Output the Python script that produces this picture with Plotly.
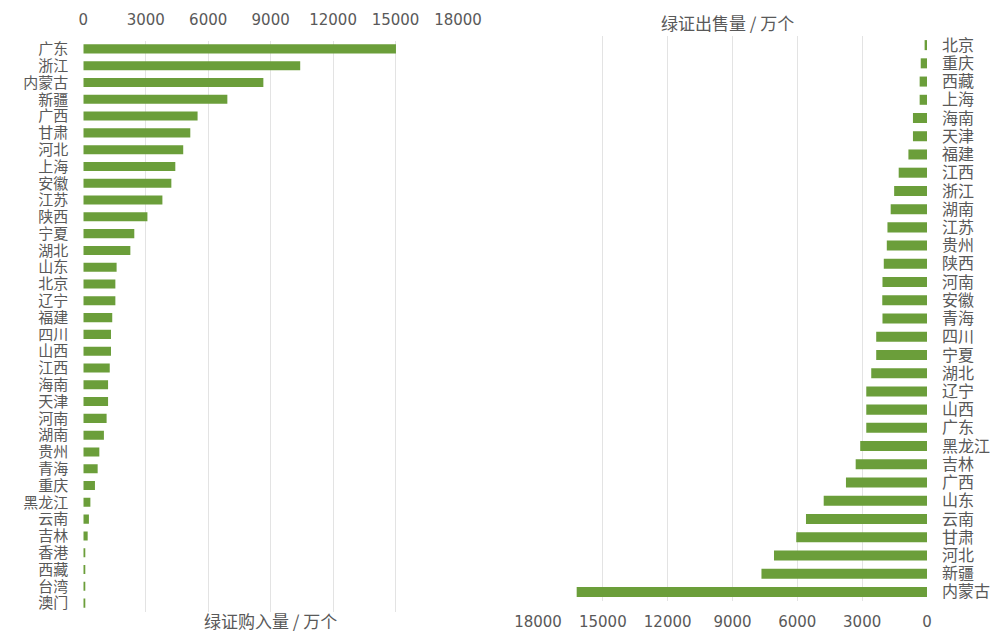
import plotly.graph_objects as go

# page offset: the browser body has an 8px margin
OFF = 8
W, H = 1000, 625

# Left panel: green certificate purchases (万个)
buy_regions = ["广东", "浙江", "内蒙古", "新疆", "广西", "甘肃", "河北", "上海", "安徽", "江苏",
               "陕西", "宁夏", "湖北", "山东", "北京", "辽宁", "福建", "四川", "山西", "江西",
               "海南", "天津", "河南", "湖南", "贵州", "青海", "重庆", "黑龙江", "云南", "吉林",
               "香港", "西藏", "台湾", "澳门"]
buy_values = [15020, 10420, 8650, 6920, 5490, 5140, 4800, 4420, 4230, 3800,
              3080, 2450, 2260, 1600, 1540, 1540, 1390, 1330, 1330, 1270,
              1190, 1190, 1120, 990, 770, 690, 560, 340, 270, 210,
              90, 80, 70, 60]

# Right panel: green certificate sales (万个)
sell_regions = ["北京", "重庆", "西藏", "上海", "海南", "天津", "福建", "江西", "浙江", "湖南",
                "江苏", "贵州", "陕西", "河南", "安徽", "青海", "四川", "宁夏", "湖北", "辽宁",
                "山西", "广东", "黑龙江", "吉林", "广西", "山东", "云南", "甘肃", "河北", "新疆",
                "内蒙古"]
sell_values = [110, 290, 340, 340, 650, 650, 860, 1310, 1520, 1680,
               1830, 1860, 2000, 2060, 2070, 2060, 2350, 2350, 2580, 2810,
               2810, 2810, 3090, 3300, 3750, 4780, 5600, 6050, 7080, 7660,
               16210]

tick_vals = [0, 3000, 6000, 9000, 12000, 15000, 18000]
tick_text = ["0", "3000", "6000", "9000", "12000", "15000", "18000"]

BAR = "#6B9E3A"
GRID = "#E3E3E3"
TXT = "#595959"
CJK = "Noto Sans CJK SC"
NUM = "DejaVu Sans"

fig = go.Figure()
fig.add_trace(go.Bar(x=buy_values, y=buy_regions, orientation="h",
                     marker=dict(color=BAR, line=dict(width=0)),
                     xaxis="x", yaxis="y", width=0.54))
fig.add_trace(go.Bar(x=sell_values, y=sell_regions, orientation="h",
                     marker=dict(color=BAR, line=dict(width=0)),
                     xaxis="x2", yaxis="y2", width=0.55))

def fx(px):
    return (px - OFF) / W

def fy(py):
    return 1 - (py - OFF) / H

fig.update_layout(
    width=W, height=H,
    margin=dict(l=0, r=0, t=0, b=0),
    paper_bgcolor="white", plot_bgcolor="white",
    showlegend=False,
    xaxis=dict(domain=[fx(83.3), fx(458)], range=[0, 18000], side="top",
               tickmode="array", tickvals=tick_vals, ticktext=tick_text,
               showgrid=True, gridcolor=GRID, gridwidth=1,
               zeroline=False, showline=False, ticks="",
               tickfont=dict(family=NUM, size=15, color=TXT),
               automargin=False, anchor="y", ticklabelstandoff=12),
    yaxis=dict(domain=[fy(611.5), fy(40.5)],
               tickmode="array", tickvals=buy_regions, ticktext=buy_regions,
               categoryorder="array", categoryarray=buy_regions, autorange="reversed",
               showgrid=False, zeroline=False, showline=False, ticks="",
               tickfont=dict(family=CJK, size=15, color=TXT),
               automargin=False, anchor="x", ticklabelstandoff=14),
    xaxis2=dict(domain=[fx(538), fx(927)], range=[18000, 0], side="bottom",
                tickmode="array", tickvals=tick_vals, ticktext=tick_text,
                showgrid=True, gridcolor=GRID, gridwidth=1,
                zeroline=False, showline=False, ticks="",
                tickfont=dict(family=NUM, size=15, color=TXT),
                automargin=False, anchor="y2", ticklabelstandoff=10),
    yaxis2=dict(domain=[fy(601), fy(36)],
                tickmode="array", tickvals=sell_regions, ticktext=sell_regions,
                categoryorder="array", categoryarray=sell_regions, autorange="reversed",
                side="right", showgrid=False, zeroline=False, showline=False,
                ticks="", tickfont=dict(family=CJK, size=16, color=TXT),
                automargin=False, anchor="x2", ticklabelstandoff=14),
    annotations=[
        dict(text="绿证购入量 / 万个", x=fx(270), y=fy(620), xref="paper", yref="paper",
             showarrow=False, font=dict(family=CJK, size=17, color=TXT),
             xanchor="center", yanchor="middle"),
        dict(text="绿证出售量 / 万个", x=fx(727), y=fy(8), xref="paper", yref="paper",
             showarrow=False, font=dict(family=CJK, size=17, color=TXT),
             xanchor="center", yanchor="top"),
    ],
)

fig.write_html("out.html")
